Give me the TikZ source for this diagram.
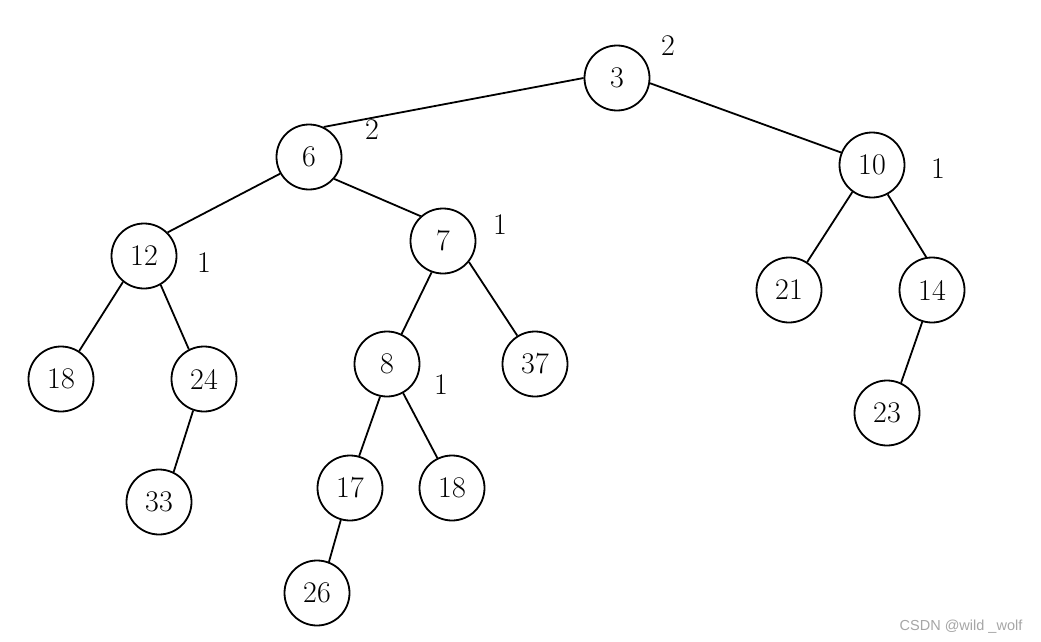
\documentclass[tikz,border=0pt]{standalone}
\usepackage{fontspec}
\newfontfamily\wmfont{Liberation Sans}
\begin{document}
\begin{tikzpicture}[x=1pt,y=-1pt,
  tn/.style={circle,draw,line width=1.8pt,minimum size=65pt,inner sep=0pt,font=\fontsize{30}{31}\selectfont},
  bf/.style={font=\fontsize{30}{31}\selectfont,inner sep=0pt},
  edge/.style={line width=1.8pt}]
\useasboundingbox[fill=white] (0,0) rectangle (1041,642);
\node[tn] (n3) at (617,78) {3};
\node[tn] (n6) at (309,157) {6};
\node[tn] (n10) at (872,165) {10};
\node[tn] (n12) at (144,256) {12};
\node[tn] (n7) at (443,241) {7};
\node[tn] (n21) at (789,290) {21};
\node[tn] (n14) at (932,290) {14};
\node[tn] (n18a) at (61,379) {18};
\node[tn] (n24) at (204,379) {24};
\node[tn] (n8) at (387,364) {8};
\node[tn] (n37) at (535,364) {37};
\node[tn] (n23) at (887,413) {23};
\node[tn] (n33) at (159,502) {33};
\node[tn] (n17) at (350,488) {17};
\node[tn] (n18b) at (452,488) {18};
\node[tn] (n26) at (317,593) {26};
\draw[edge] (n3.180) -- (n6.64);
\draw[edge] (n3.-9) -- (n10.158);
\draw[edge] (n6.210) -- (n12.45);
\draw[edge] (n6.-41) -- (n7.132);
\draw[edge] (n7.-110) -- (n8.64);
\draw[edge] (n7.-39) -- (n37.122);
\draw[edge] (n12.-129) -- (n18a.57);
\draw[edge] (n12.-60) -- (n24.117);
\draw[edge] (n24.-109) -- (n33.64);
\draw[edge] (n8.-102) -- (n17.74);
\draw[edge] (n8.-61) -- (n18b.116);
\draw[edge] (n17.-106) -- (n26.69);
\draw[edge] (n10.-126) -- (n21.57);
\draw[edge] (n10.-62) -- (n14.100);
\draw[edge] (n14.-107) -- (n23.65);
\node[bf] (b3) at (668,46) {2};
\node[bf] (b6) at (372,130) {2};
\node[bf] (b10) at (938,169) {1};
\node[bf] (b12) at (204,263) {1};
\node[bf] (b7) at (500,225) {1};
\node[bf] (b8) at (441,385) {1};
\node[font=\wmfont\fontsize{14.5}{15}\selectfont,text=black!35,inner sep=0pt] (wm) at (961,627) {CSDN @wild \_wolf};
\end{tikzpicture}
\end{document}
